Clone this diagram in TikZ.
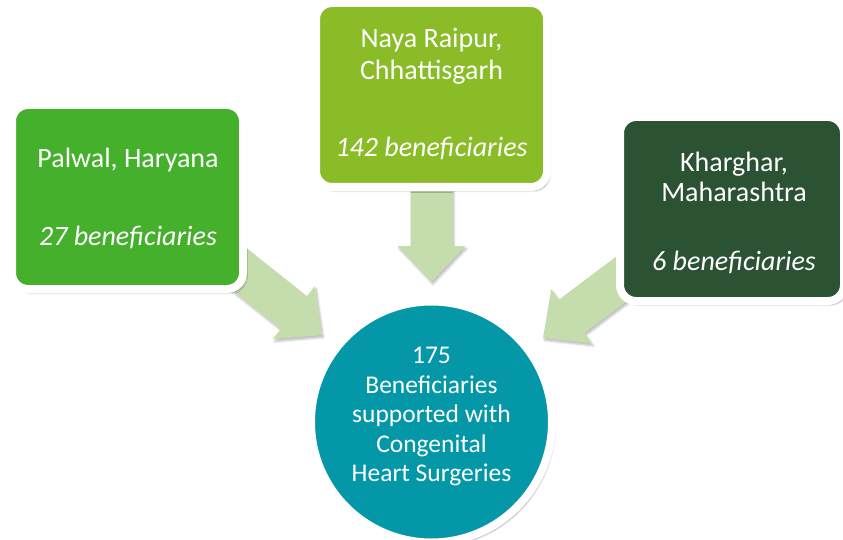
\documentclass[tikz,border=0pt]{standalone}
\usepackage{fontspec}
\setmainfont{Carlito}
\usetikzlibrary{calc,shadows.blur}
\definecolor{palwalgreen}{RGB}{69,176,43}
\definecolor{nayagreen}{RGB}{137,188,39}
\definecolor{khargharbg}{RGB}{44,82,52}
\definecolor{hubteal}{RGB}{3,151,167}
\definecolor{arrowgreen}{RGB}{197,220,173}
\tikzset{
  softshadow/.style={blur shadow={shadow xshift=2.5pt, shadow yshift=-3.5pt, shadow blur steps=6, shadow opacity=40}},
  card/.style={draw=white, line width=8pt, rounded corners=16pt, minimum width=231pt, minimum height=184pt, inner sep=0pt, softshadow},
  hubstyle/.style={circle, fill=hubteal, draw=white, line width=8pt, minimum size=241pt, inner sep=0pt, softshadow},
  cardline/.style={text=white, anchor=base, inner sep=0pt, font=\fontsize{28}{32}\selectfont},
  carditalic/.style={cardline, font=\fontsize{28}{32}\selectfont\itshape},
  hubline/.style={text=white, anchor=base, inner sep=0pt, font=\fontsize{25.5}{29}\selectfont},
  blockarrowstyle/.style={fill=arrowgreen, draw=none, blur shadow={shadow xshift=1.5pt, shadow yshift=-2.5pt, shadow blur steps=5, shadow opacity=25}}
}
\newcommand{\blockarrow}[3]{% #1 tail, #2 tip, #3 name prefix
  \coordinate (#3h) at ($(#2)!36pt!(#1)$);
  \path[blockarrowstyle]
    ($(#1)!21pt!90:(#2)$) -- ($(#3h)!21pt!90:(#2)$) -- ($(#3h)!34pt!90:(#2)$) -- (#2)
    -- ($(#3h)!34pt!-90:(#2)$) -- ($(#3h)!21pt!-90:(#2)$) -- ($(#1)!21pt!-90:(#2)$) -- cycle;
}
\begin{document}
\begin{tikzpicture}[x=1pt,y=-1pt]
\useasboundingbox (0,0) rectangle (843,540);
\clip (0,0) rectangle (843,540);

% hub position (for arrows)
\coordinate (hubc) at (431.5,422);
\coordinate (tipL) at ($(hubc)+(-109.5,-87)$);
\coordinate (tipT) at ($(hubc)+(0,-140)$);
\coordinate (tipR) at ($(hubc)+(111.5,-84)$);
\coordinate (tailL) at ($(hubc)!265pt!(tipL)$);
\coordinate (tailT) at ($(hubc)!265pt!(tipT)$);
\coordinate (tailR) at ($(hubc)!265pt!(tipR)$);

\blockarrow{tailL}{tipL}{aL}
\blockarrow{tailT}{tipT}{aT}
\blockarrow{tailR}{tipR}{aR}

% cards
\node[card, fill=palwalgreen] (palwal) at (127.5,197) {};
\node[card, fill=nayagreen] (naya) at (431.5,95) {};
\node[card, fill=khargharbg, minimum width=224pt] (kharghar) at (732,209) {};

% hub
\node[hubstyle] (hub) at (hubc) {};

% texts
\node[cardline] (p1) at (128,168) {Palwal, Haryana};
\node[carditalic] (p2) at (128,245) {27 beneficiaries};

\node[cardline] (n1) at (431.5,48) {Naya Raipur,};
\node[cardline] (n2) at (431.5,80) {Chhattisgarh};
\node[carditalic] (n3) at (431.5,157) {142 beneficiaries};

\node[cardline] (k1) at (734,172) {Kharghar,};
\node[cardline] (k2) at (734,202) {Maharashtra};
\node[carditalic] (k3) at (734,270) {6 beneficiaries};

\node[hubline] (h1) at (431.5,363) {175};
\node[hubline] (h2) at (431.5,393) {Beneficiaries};
\node[hubline] (h3) at (431.5,422) {supported with};
\node[hubline] (h4) at (431.5,452) {Congenital};
\node[hubline] (h5) at (431.5,481) {Heart Surgeries};
\end{tikzpicture}
\end{document}
